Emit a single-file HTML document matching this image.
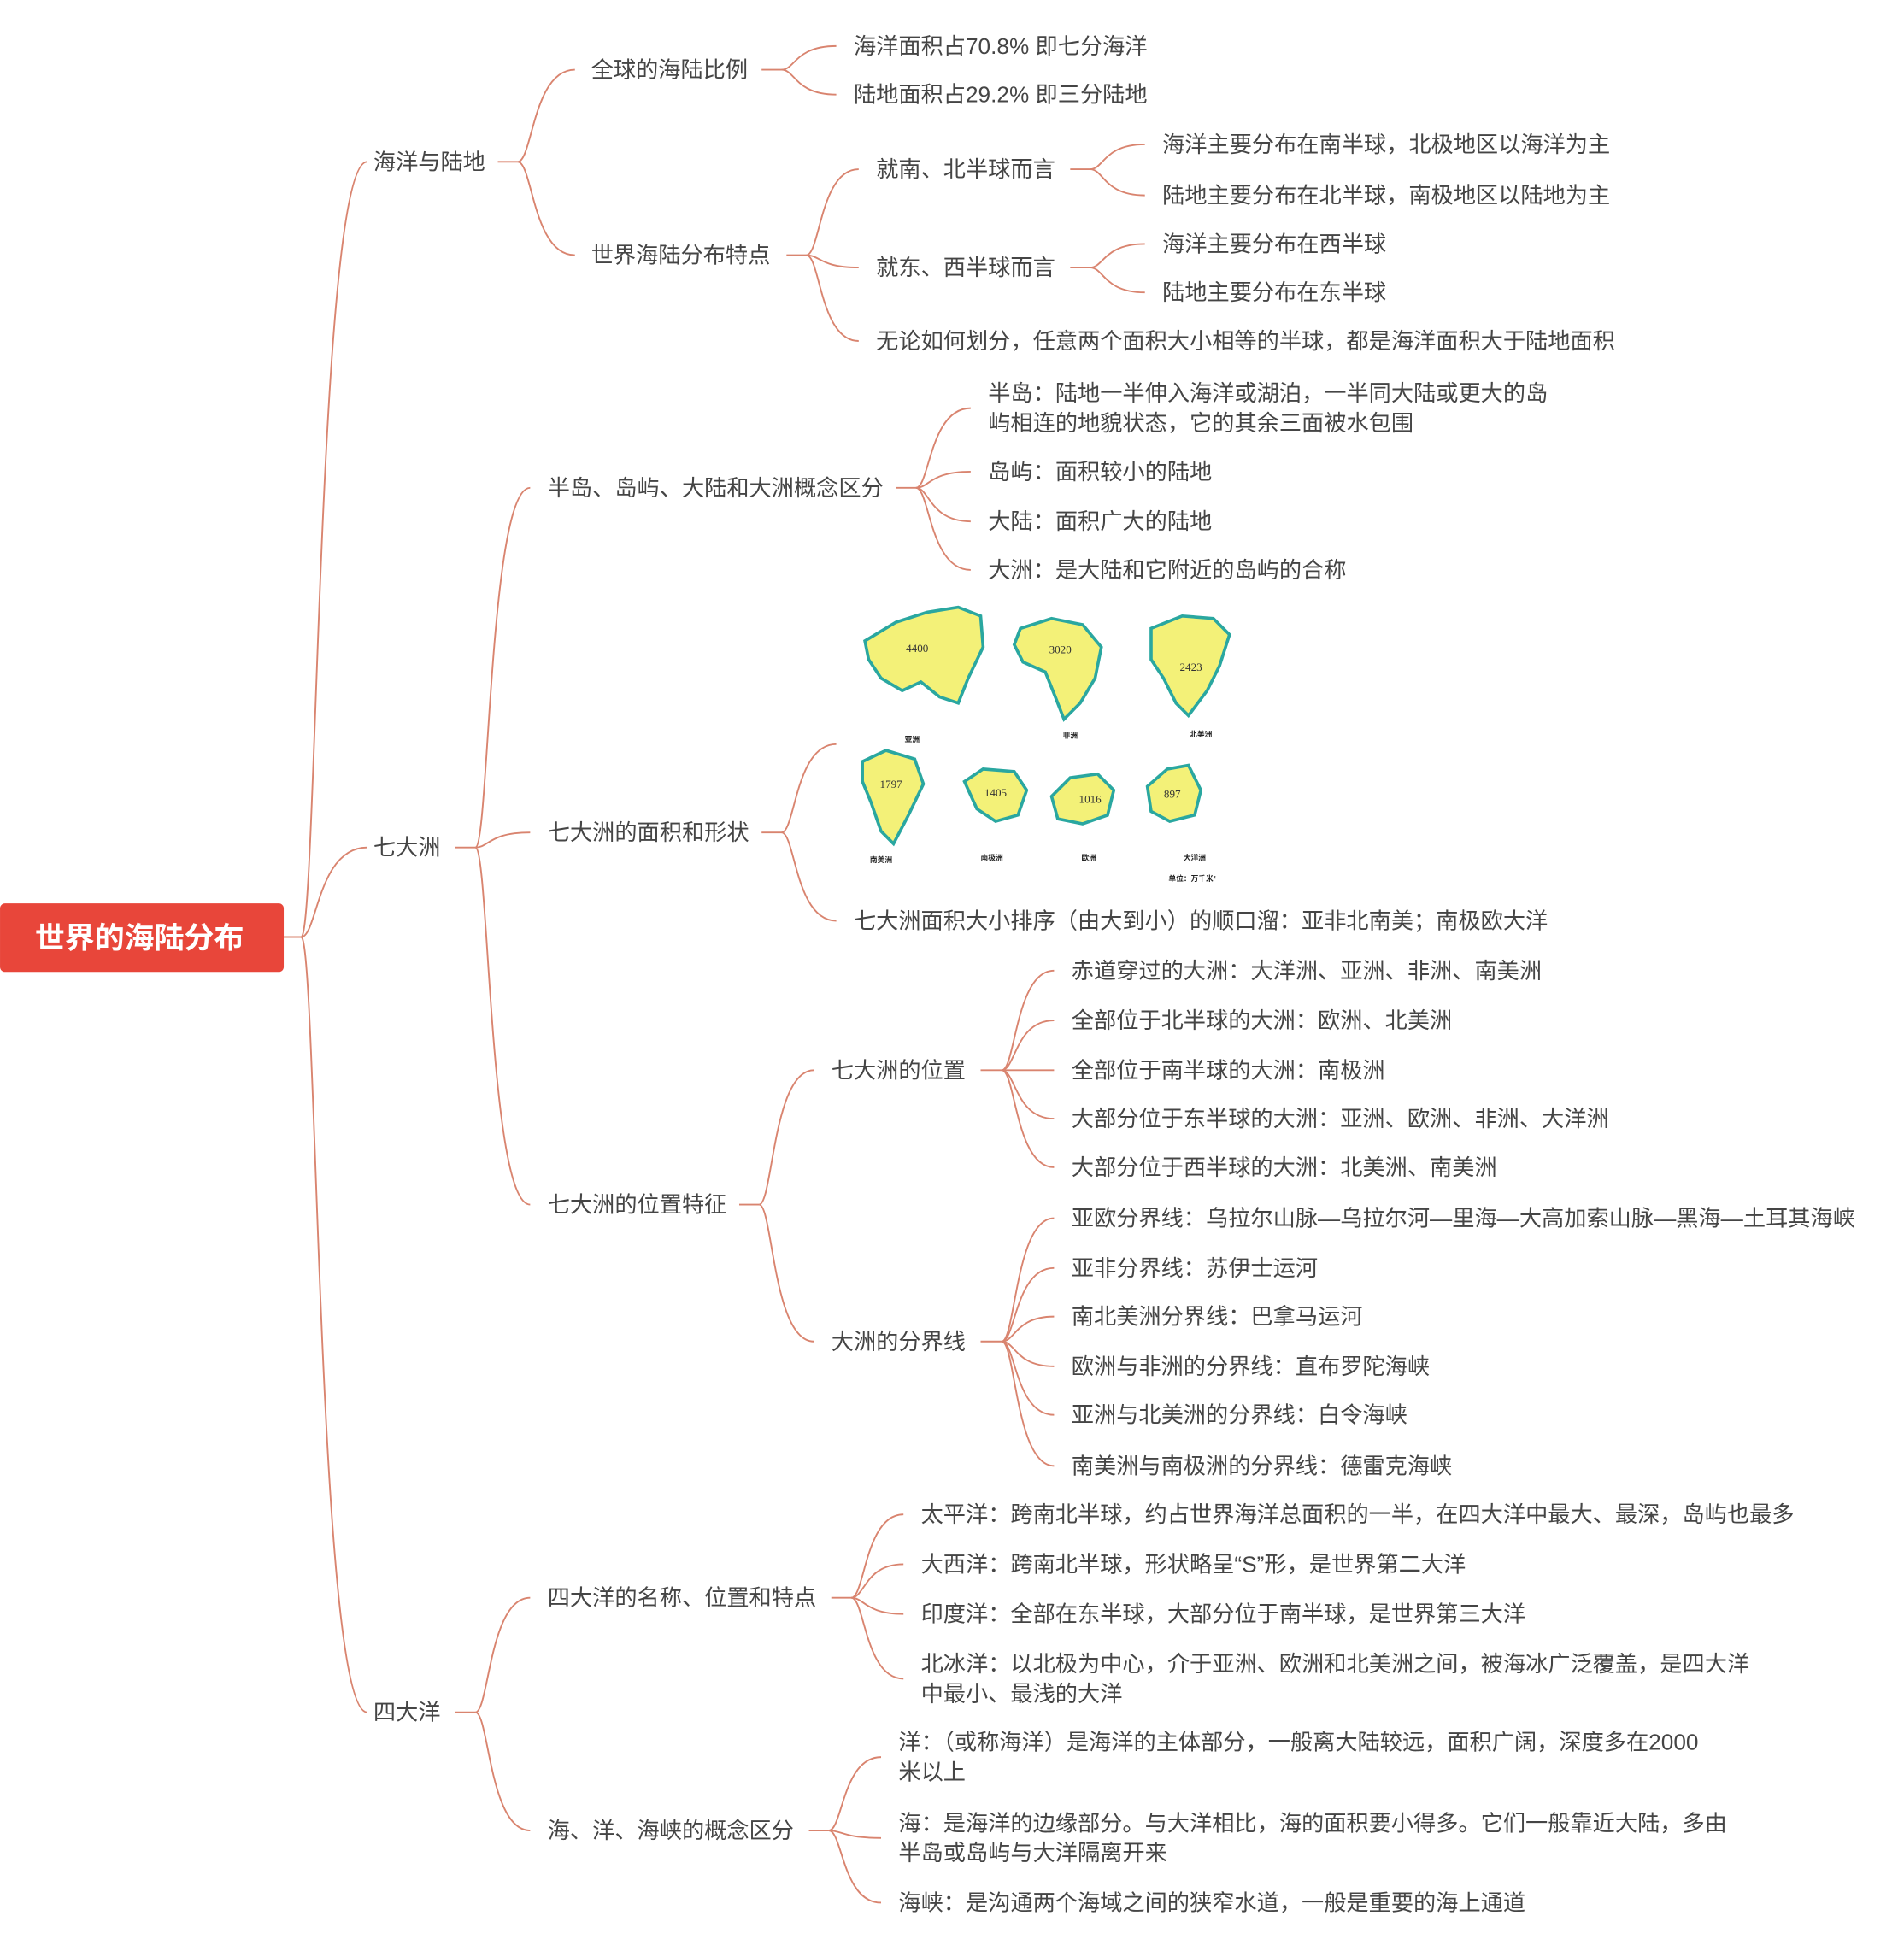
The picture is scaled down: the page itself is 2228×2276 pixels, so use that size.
<!DOCTYPE html>
<html><head><meta charset="utf-8"><style>
html,body{margin:0;padding:0;background:#fff;}
svg{display:block;}
text{font-family:"Liberation Sans","Noto Sans CJK SC",sans-serif;font-size:18px;fill:#454545;dominant-baseline:central;}
.c{fill:none;stroke:#d9846f;stroke-width:1.3;}
.m{font-size:9px;fill:#333;font-family:"Liberation Serif",serif;}
.s{font-size:6px;fill:#222;font-weight:bold;}
.land{fill:#f3f178;stroke:#2aa7a0;stroke-width:2.5;}
</style></head><body>
<svg width="2228" height="2276" viewBox="0 0 1530 1563" xmlns="http://www.w3.org/2000/svg">
<rect x="0" y="726" width="228" height="55" rx="4" fill="#e8463a"/>
<text x="112" y="754" text-anchor="middle" style="font-size:24px;font-weight:bold;fill:#fff">世界的海陆分布</text>

<g class="c">
<path d="M228 753 L242 753"/>
<path d="M242 753 C255 753 255 130 295 130"/>
<path d="M242 753 C255 753 255 681 295 681"/>
<path d="M242 753 C255 753 255 1376 295 1376"/>
<path d="M400 130 L416 130"/>
<path d="M416 130 C428 130 428 56 462 56"/>
<path d="M416 130 C428 130 428 205 462 205"/>
<path d="M612 56 L628 56"/>
<path d="M628 56 C639 56 639 37 672 37"/>
<path d="M628 56 C639 56 639 76 672 76"/>
<path d="M632 205 L648 205"/>
<path d="M648 205 C659 205 659 136 690 136"/>
<path d="M648 205 C659 205 659 215 690 215"/>
<path d="M648 205 C659 205 659 274 690 274"/>
<path d="M860 136 L876 136"/>
<path d="M876 136 C887 136 887 116 920 116"/>
<path d="M876 136 C887 136 887 157 920 157"/>
<path d="M860 215 L876 215"/>
<path d="M876 215 C887 215 887 196 920 196"/>
<path d="M876 215 C887 215 887 235 920 235"/>
<path d="M366 681 L382 681"/>
<path d="M382 681 C393 681 393 392 426 392"/>
<path d="M382 681 C393 681 393 669 426 669"/>
<path d="M382 681 C393 681 393 968 426 968"/>
<path d="M720 392 L736 392"/>
<path d="M736 392 C747 392 747 328 780 328"/>
<path d="M736 392 C747 392 747 379 780 379"/>
<path d="M736 392 C747 392 747 419 780 419"/>
<path d="M736 392 C747 392 747 458 780 458"/>
<path d="M612 669 L628 669"/>
<path d="M628 669 C639 669 639 598 672 598"/>
<path d="M628 669 C639 669 639 740 672 740"/>
<path d="M594 968 L610 968"/>
<path d="M610 968 C621 968 621 860 654 860"/>
<path d="M610 968 C621 968 621 1078 654 1078"/>
<path d="M788 860 L805 860"/>
<path d="M805 860 C816 860 816 780 847 780"/>
<path d="M805 860 C816 860 816 820 847 820"/>
<path d="M805 860 L847 860"/>
<path d="M805 860 C816 860 816 899 847 899"/>
<path d="M805 860 C816 860 816 938 847 938"/>
<path d="M788 1078 L805 1078"/>
<path d="M805 1078 C816 1078 816 979 847 979"/>
<path d="M805 1078 C816 1078 816 1019 847 1019"/>
<path d="M805 1078 C816 1078 816 1058 847 1058"/>
<path d="M805 1078 C816 1078 816 1098 847 1098"/>
<path d="M805 1078 C816 1078 816 1137 847 1137"/>
<path d="M805 1078 C816 1078 816 1178 847 1178"/>
<path d="M366 1376 L382 1376"/>
<path d="M382 1376 C393 1376 393 1284 426 1284"/>
<path d="M382 1376 C393 1376 393 1471 426 1471"/>
<path d="M668 1284 L684 1284"/>
<path d="M684 1284 C695 1284 695 1217 726 1217"/>
<path d="M684 1284 C695 1284 695 1257 726 1257"/>
<path d="M684 1284 C695 1284 695 1297 726 1297"/>
<path d="M684 1284 C695 1284 695 1349 726 1349"/>
<path d="M650 1471 L666 1471"/>
<path d="M666 1471 C677 1471 677 1412 708 1412"/>
<path d="M666 1471 C677 1471 677 1477 708 1477"/>
<path d="M666 1471 C677 1471 677 1529 708 1529"/>
</g>

<text x="300" y="130">海洋与陆地</text>
<text x="300" y="681">七大洲</text>
<text x="300" y="1376">四大洋</text>

<text x="475" y="56">全球的海陆比例</text>
<text x="475" y="205">世界海陆分布特点</text>
<text x="686" y="37">海洋面积占70.8% 即七分海洋</text>
<text x="686" y="76">陆地面积占29.2% 即三分陆地</text>
<text x="704" y="136">就南、北半球而言</text>
<text x="704" y="215">就东、西半球而言</text>
<text x="704" y="274">无论如何划分，任意两个面积大小相等的半球，都是海洋面积大于陆地面积</text>
<text x="934" y="116">海洋主要分布在南半球，北极地区以海洋为主</text>
<text x="934" y="157">陆地主要分布在北半球，南极地区以陆地为主</text>
<text x="934" y="196">海洋主要分布在西半球</text>
<text x="934" y="235">陆地主要分布在东半球</text>

<text x="440" y="392">半岛、岛屿、大陆和大洲概念区分</text>
<text x="794" y="316">半岛：陆地一半伸入海洋或湖泊，一半同大陆或更大的岛</text>
<text x="794" y="340">屿相连的地貌状态，它的其余三面被水包围</text>
<text x="794" y="379">岛屿：面积较小的陆地</text>
<text x="794" y="419">大陆：面积广大的陆地</text>
<text x="794" y="458">大洲：是大陆和它附近的岛屿的合称</text>

<text x="440" y="669">七大洲的面积和形状</text>
<g>
<path class="land" d="M695 515 L720 500 L745 492 L770 488 L788 495 L790 520 L778 545 L770 565 L755 560 L740 548 L725 555 L708 545 L698 530 Z"/>
<text class="m" x="737" y="521" text-anchor="middle">4400</text>
<path class="land" d="M820 505 L845 497 L870 502 L885 520 L880 545 L868 565 L855 578 L848 560 L840 540 L822 532 L815 518 Z"/>
<text class="m" x="852" y="522" text-anchor="middle">3020</text>
<path class="land" d="M925 505 L950 495 L975 497 L988 510 L980 535 L970 555 L955 575 L945 565 L935 545 L925 530 Z"/>
<text class="m" x="957" y="536" text-anchor="middle">2423</text>
<path class="land" d="M693 612 L712 603 L735 610 L742 630 L730 655 L718 678 L708 668 L700 645 L693 628 Z"/>
<text class="m" x="716" y="630" text-anchor="middle">1797</text>
<path class="land" d="M775 628 L790 618 L815 620 L825 635 L818 655 L800 660 L785 650 Z"/>
<text class="m" x="800" y="637" text-anchor="middle">1405</text>
<path class="land" d="M845 640 L860 625 L882 622 L895 635 L890 655 L870 662 L850 658 Z"/>
<text class="m" x="876" y="642" text-anchor="middle">1016</text>
<path class="land" d="M922 632 L938 618 L955 615 L965 635 L960 655 L940 660 L925 652 Z"/>
<text class="m" x="942" y="638" text-anchor="middle">897</text>
<text class="s" x="733" y="594" text-anchor="middle">亚洲</text>
<text class="s" x="860" y="591" text-anchor="middle">非洲</text>
<text class="s" x="965" y="590" text-anchor="middle">北美洲</text>
<text class="s" x="708" y="691" text-anchor="middle">南美洲</text>
<text class="s" x="797" y="689" text-anchor="middle">南极洲</text>
<text class="s" x="875" y="689" text-anchor="middle">欧洲</text>
<text class="s" x="960" y="689" text-anchor="middle">大洋洲</text>
<text class="s" x="958" y="706" text-anchor="middle">单位：万千米²</text>
</g>
<text x="686" y="740">七大洲面积大小排序（由大到小）的顺口溜：亚非北南美；南极欧大洋</text>

<text x="440" y="968">七大洲的位置特征</text>
<text x="668" y="860">七大洲的位置</text>
<text x="668" y="1078">大洲的分界线</text>
<text x="861" y="780">赤道穿过的大洲：大洋洲、亚洲、非洲、南美洲</text>
<text x="861" y="820">全部位于北半球的大洲：欧洲、北美洲</text>
<text x="861" y="860">全部位于南半球的大洲：南极洲</text>
<text x="861" y="899">大部分位于东半球的大洲：亚洲、欧洲、非洲、大洋洲</text>
<text x="861" y="938">大部分位于西半球的大洲：北美洲、南美洲</text>
<text x="861" y="979">亚欧分界线：乌拉尔山脉—乌拉尔河—里海—大高加索山脉—黑海—土耳其海峡</text>
<text x="861" y="1019">亚非分界线：苏伊士运河</text>
<text x="861" y="1058">南北美洲分界线：巴拿马运河</text>
<text x="861" y="1098">欧洲与非洲的分界线：直布罗陀海峡</text>
<text x="861" y="1137">亚洲与北美洲的分界线：白令海峡</text>
<text x="861" y="1178">南美洲与南极洲的分界线：德雷克海峡</text>

<text x="440" y="1284">四大洋的名称、位置和特点</text>
<text x="440" y="1471">海、洋、海峡的概念区分</text>
<text x="740" y="1217">太平洋：跨南北半球，约占世界海洋总面积的一半，在四大洋中最大、最深，岛屿也最多</text>
<text x="740" y="1257">大西洋：跨南北半球，形状略呈“S”形，是世界第二大洋</text>
<text x="740" y="1297">印度洋：全部在东半球，大部分位于南半球，是世界第三大洋</text>
<text x="740" y="1337">北冰洋：以北极为中心，介于亚洲、欧洲和北美洲之间，被海冰广泛覆盖，是四大洋</text>
<text x="740" y="1361">中最小、最浅的大洋</text>
<text x="722" y="1400">洋：（或称海洋）是海洋的主体部分，一般离大陆较远，面积广阔，深度多在2000</text>
<text x="722" y="1424">米以上</text>
<text x="722" y="1465">海：是海洋的边缘部分。与大洋相比，海的面积要小得多。它们一般靠近大陆，多由</text>
<text x="722" y="1489">半岛或岛屿与大洋隔离开来</text>
<text x="722" y="1529">海峡：是沟通两个海域之间的狭窄水道，一般是重要的海上通道</text>
</svg>
</body></html>
